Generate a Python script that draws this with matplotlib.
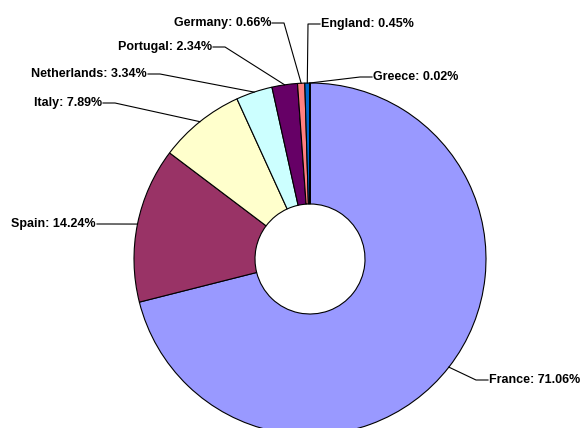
import numpy as np
import matplotlib
matplotlib.use("Agg")
import matplotlib.pyplot as plt

countries = ["France", "Spain", "Italy", "Netherlands", "Portugal", "Germany", "England", "Greece"]
shares = [71.06, 14.24, 7.89, 3.34, 2.34, 0.66, 0.45, 0.02]
colors = ["#9999FF", "#993366", "#FFFFCC", "#CCFFFF", "#660066", "#FF8080", "#0066CC", "#CCCCFF"]

# label layout in pixel coords (x, y from top): elbow of leader line, text side
elbows = [(476, 380), (109, 224), (115, 103), (160, 74), (225, 47), (284, 23), (308, 24), (360, 77)]
sides = ["left", "right", "right", "right", "right", "right", "left", "left"]

W, H = 581, 428
cx, cy, R, r_in = 310, H - 259, 176, 55

plt.rcParams["font.family"] = ["Liberation Sans", "DejaVu Sans"]
fig = plt.figure(figsize=(W / 100, H / 100), dpi=100)
ax = fig.add_axes([0, 0, 1, 1])

wedges, _ = ax.pie(shares, colors=colors, startangle=90, counterclock=False,
                   radius=R, center=(cx, cy),
                   wedgeprops=dict(width=R - r_in, edgecolor="black", linewidth=0.8))

for w, name, val, (ex, ey), side in zip(wedges, countries, shares, elbows, sides):
    mid = np.deg2rad((w.theta1 + w.theta2) / 2)
    px, py = cx + R * np.cos(mid), cy + R * np.sin(mid)
    ey = H - ey
    tx = ex + 12 if side == "left" else ex - 12
    ax.plot([px, ex, tx], [py, ey, ey], color="black", lw=0.8)
    ax.text(tx + (1 if side == "left" else -1), ey, f"{name}: {val:.2f}%",
            ha=side, va="center", fontsize=9, fontweight="bold")

ax.set_xlim(0, W)
ax.set_ylim(0, H)
ax.set_aspect("equal")
ax.axis("off")
fig.savefig("out.png", dpi=100)
